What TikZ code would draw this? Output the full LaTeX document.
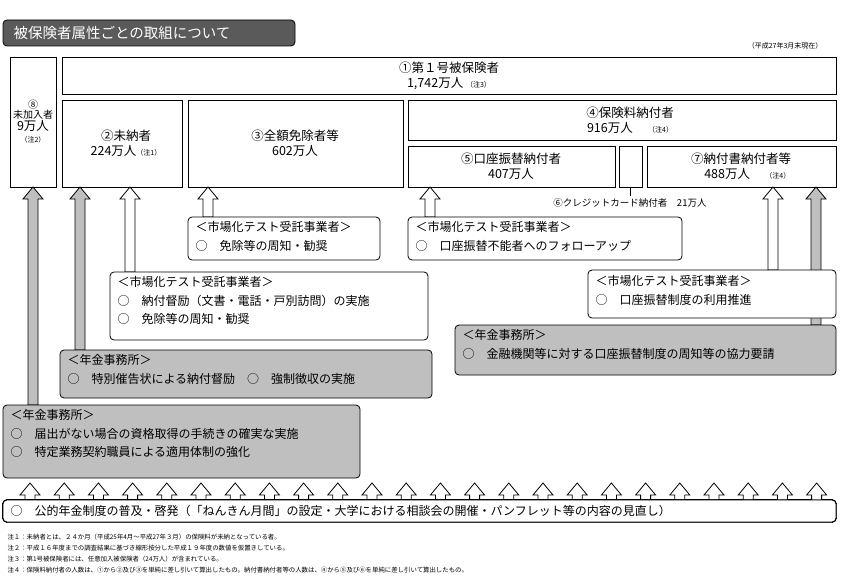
\documentclass[tikz,border=0pt]{standalone}
\usepackage{fontspec}
\setmainfont{Noto Sans CJK JP}
\definecolor{titlegray}{HTML}{5A5A5A}
\definecolor{boxgray}{HTML}{BFBFBF}
\tikzset{
  cell/.style={draw, thick, inner sep=0pt},
  memo/.style={draw, thick, rounded corners=4pt, inner sep=0pt},
  txt/.style={font=\fontsize{12.5}{15}\selectfont, align=center},
  ltxt/.style={font=\fontsize{12}{18.5}\selectfont, align=left, anchor=north west},
  note/.style={font=\fontsize{6.4}{7}\selectfont, anchor=west},
}
% hollow block arrow: x, top y, bottom y, fill
\newcommand\blockarr[4]{%
  \draw[thick, fill=#4] (#1-5,#3) -- (#1-5,#2+12) -- (#1-10,#2+12) -- (#1,#2)
    -- (#1+10,#2+12) -- (#1+5,#2+12) -- (#1+5,#3) -- cycle;}
\begin{document}
\begin{tikzpicture}[x=1pt, y=-1pt]
  \useasboundingbox (0,0) rectangle (842,583);

  % title
  \draw[thick, rounded corners=4pt, fill=titlegray] (3,20) rectangle (295,46);
  \node[anchor=west, white, font=\fontsize{14.5}{16}\selectfont] (title) at (10,33) {被保険者属性ごとの取組について};
  \node[anchor=east, font=\fontsize{7}{8}\selectfont] (date) at (826,46) {（平成27年3月末現在）};

  % population boxes
  \draw[cell] (10,57) rectangle (56,187);
  \node[txt, font=\fontsize{10}{12}\selectfont] (b8) at (33,122) {⑧\\[-2pt]未加入者\\{\fontsize{12.5}{14}\selectfont 9万人}\\{\fontsize{7}{8}\selectfont （注2）}};
  \draw[cell] (62,57) rectangle (836,94);
  \node[txt] (b1) at (449,76) {①第１号被保険者\\1,742万人 {\fontsize{7}{8}\selectfont （注3）}};
  \draw[cell] (62,100) rectangle (182,187);
  \node[txt] (b2) at (126,143) {②未納者\\224万人{\fontsize{7}{8}\selectfont （注1）}};
  \draw[cell] (188,100) rectangle (403,187);
  \node[txt] (b3) at (295,143) {③全額免除者等\\602万人};
  \draw[cell] (408,100) rectangle (836,140);
  \node[txt] (b4) at (630,120) {④保険料納付者\\916万人 \quad{\fontsize{7}{8}\selectfont （注4）}};
  \draw[cell] (408,146) rectangle (615,187);
  \node[txt] (b5) at (511,166) {⑤口座振替納付者\\407万人};
  \draw[cell] (619,146) rectangle (642,187);
  \draw[thick] (630.5,187) -- (630.5,196);
  \node[font=\fontsize{9.5}{11}\selectfont] (b6) at (630,203) {⑥クレジットカード納付者　21万人};
  \draw[cell] (647,146) rectangle (836,187);
  \node[txt] (b7) at (741,166) {⑦納付書納付者等\\\quad488万人 \quad{\fontsize{7}{8}\selectfont （注4）}};

  % arrows to population boxes
  \blockarr{33}{187}{405}{boxgray}
  \blockarr{80}{187}{350}{boxgray}
  \blockarr{816}{187}{325}{boxgray}
  \blockarr{130}{187}{272}{white}
  \blockarr{208}{187}{217}{white}
  \blockarr{430}{187}{217}{white}
  \blockarr{773}{187}{270}{white}

  % measures
  \draw[memo, fill=white] (188,217) rectangle (380,260);
  \node[ltxt] (m1) at (192,218) {＜市場化テスト受託事業者＞\\○　免除等の周知・勧奨};
  \draw[memo, fill=white] (408,217) rectangle (682,260);
  \node[ltxt] (m2) at (412,218) {＜市場化テスト受託事業者＞\\○　口座振替不能者へのフォローアップ};
  \draw[memo, fill=white] (110,272) rectangle (428,340);
  \node[ltxt] (m3) at (114,273) {＜市場化テスト受託事業者＞\\○　納付督励（文書・電話・戸別訪問）の実施\\○　免除等の周知・勧奨};
  \draw[memo, fill=white] (588,270) rectangle (836,318);
  \node[ltxt] (m4) at (592,272) {＜市場化テスト受託事業者＞\\○　口座振替制度の利用推進};
  \draw[memo, fill=boxgray] (60,350) rectangle (432,398);
  \node[ltxt] (m5) at (64,351) {＜年金事務所＞\\○　特別催告状による納付督励　○　強制徴収の実施};
  \draw[memo, fill=boxgray] (455,325) rectangle (836,375);
  \node[ltxt] (m6) at (459,326) {＜年金事務所＞\\○　金融機関等に対する口座振替制度の周知等の協力要請};
  \draw[memo, fill=boxgray] (3,405) rectangle (360,478);
  \node[ltxt] (m7) at (7,406) {＜年金事務所＞\\○　届出がない場合の資格取得の手続きの確実な実施\\○　特定業務契約職員による適用体制の強化};

  % bottom measure
  \foreach \i in {0,...,23}
    \blockarr{30+34.2*\i}{483}{500}{white}
  \draw[memo, fill=white] (3,500) rectangle (836,522);
  \node[anchor=west, font=\fontsize{12}{14}\selectfont] (m8) at (7,511) {○　公的年金制度の普及・啓発（「ねんきん月間」の設定・大学における相談会の開催・パンフレット等の内容の見直し）};

  % notes
  \node[note] (n1) at (4,537) {注１：未納者とは、２４か月（平成25年4月～平成27年３月）の保険料が未納となっている者。};
  \node[note] (n2) at (4,548) {注２：平成１６年度までの調査結果に基づき線形按分した平成１９年度の数値を仮置きしている。};
  \node[note] (n3) at (4,559) {注３：第1号被保険者には、任意加入被保険者（24万人）が含まれている。};
  \node[note] (n4) at (4,570) {注４：保険料納付者の人数は、①から②及び③を単純に差し引いて算出したもの。納付書納付者等の人数は、④から⑤及び⑥を単純に差し引いて算出したもの。};
\end{tikzpicture}
\end{document}
